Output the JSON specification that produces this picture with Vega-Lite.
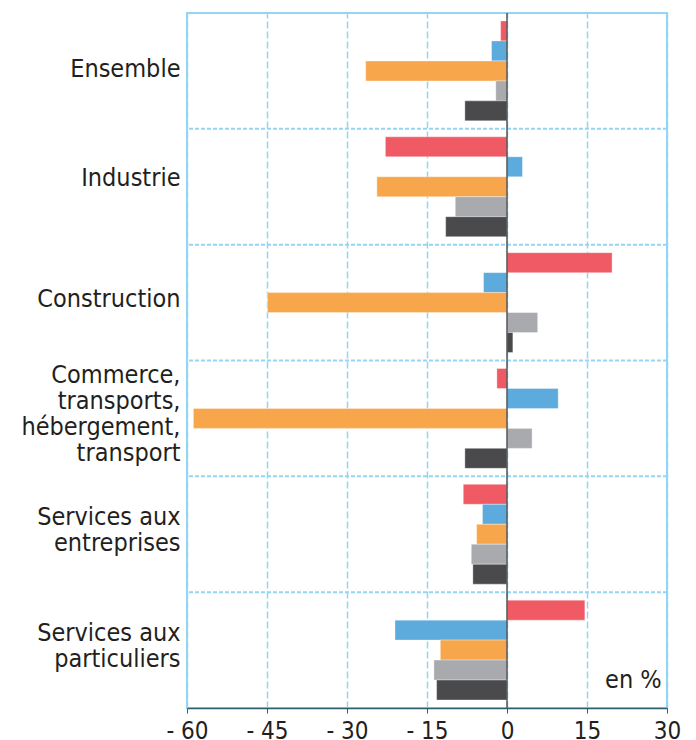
{
  "$schema": "https://vega.github.io/schema/vega-lite/v6.json",
  "width": 480,
  "height": 695,
  "autosize": {"type": "none"},
  "padding": {"left": 187, "top": 13, "right": 29, "bottom": 32},
  "background": "white",
  "config": {
    "view": {"stroke": "#93d5f3", "strokeWidth": 2},
    "font": "DejaVu Sans Condensed, sans-serif"
  },
  "layer": [
    {
      "data": {
        "values": [
          {"secteur": "Ensemble", "serie": "Série 1", "valeur": -1.2},
          {"secteur": "Ensemble", "serie": "Série 2", "valeur": -2.9},
          {"secteur": "Ensemble", "serie": "Série 3", "valeur": -26.5},
          {"secteur": "Ensemble", "serie": "Série 4", "valeur": -2.1},
          {"secteur": "Ensemble", "serie": "Série 5", "valeur": -7.9},
          {"secteur": "Industrie", "serie": "Série 1", "valeur": -22.8},
          {"secteur": "Industrie", "serie": "Série 2", "valeur": 2.9},
          {"secteur": "Industrie", "serie": "Série 3", "valeur": -24.4},
          {"secteur": "Industrie", "serie": "Série 4", "valeur": -9.7},
          {"secteur": "Industrie", "serie": "Série 5", "valeur": -11.5},
          {"secteur": "Construction", "serie": "Série 1", "valeur": 19.7},
          {"secteur": "Construction", "serie": "Série 2", "valeur": -4.4},
          {"secteur": "Construction", "serie": "Série 3", "valeur": -44.9},
          {"secteur": "Construction", "serie": "Série 4", "valeur": 5.75},
          {"secteur": "Construction", "serie": "Série 5", "valeur": 1.1},
          {"secteur": "Commerce,|transports,|hébergement,|transport", "serie": "Série 1", "valeur": -1.9},
          {"secteur": "Commerce,|transports,|hébergement,|transport", "serie": "Série 2", "valeur": 9.6},
          {"secteur": "Commerce,|transports,|hébergement,|transport", "serie": "Série 3", "valeur": -58.8},
          {"secteur": "Commerce,|transports,|hébergement,|transport", "serie": "Série 4", "valeur": 4.7},
          {"secteur": "Commerce,|transports,|hébergement,|transport", "serie": "Série 5", "valeur": -7.9},
          {"secteur": "Services aux|entreprises", "serie": "Série 1", "valeur": -8.2},
          {"secteur": "Services aux|entreprises", "serie": "Série 2", "valeur": -4.6},
          {"secteur": "Services aux|entreprises", "serie": "Série 3", "valeur": -5.7},
          {"secteur": "Services aux|entreprises", "serie": "Série 4", "valeur": -6.7},
          {"secteur": "Services aux|entreprises", "serie": "Série 5", "valeur": -6.4},
          {"secteur": "Services aux|particuliers", "serie": "Série 1", "valeur": 14.6},
          {"secteur": "Services aux|particuliers", "serie": "Série 2", "valeur": -21.0},
          {"secteur": "Services aux|particuliers", "serie": "Série 3", "valeur": -12.5},
          {"secteur": "Services aux|particuliers", "serie": "Série 4", "valeur": -13.7},
          {"secteur": "Services aux|particuliers", "serie": "Série 5", "valeur": -13.2}
        ]
      },
      "mark": {"type": "bar", "stroke": "#ffffff", "strokeOpacity": 0.35, "strokeWidth": 1},
      "encoding": {
        "y": {
          "field": "secteur",
          "type": "nominal",
          "sort": null,
          "scale": {"paddingInner": 0, "paddingOuter": 0},
          "axis": {
            "title": null,
            "ticks": false,
            "domain": false,
            "grid": false,
            "labelExpr": "split(datum.value, '|')",
            "labelFontSize": 25,
            "labelColor": "#231f20",
            "labelPadding": 7,
            "labelLineHeight": 26,
            "labelLimit": 0,
            "labelOffset": {
              "condition": [
                {"test": "datum.value == 'Industrie'", "value": -9},
                {"test": "datum.value == 'Construction'", "value": -4},
                {"test": "length(split(datum.value, '|')) == 4", "value": -43},
                {"test": "length(split(datum.value, '|')) == 2", "value": -17}
              ],
              "value": -2
            }
          }
        },
        "yOffset": {
          "field": "serie",
          "type": "nominal",
          "sort": null,
          "scale": {"paddingInner": 0, "paddingOuter": 0.4}
        },
        "x": {
          "field": "valeur",
          "type": "quantitative",
          "scale": {"domain": [-60, 30], "nice": false, "zero": false},
          "axis": {
            "title": null,
            "values": [-60, -45, -30, -15, 0, 15, 30],
            "labelExpr": "datum.value < 0 ? '- ' + abs(datum.value) : datum.label",
            "labelOverlap": false,
            "labelFlush": false,
            "grid": true,
            "gridColor": "#93d5f3",
            "gridDash": [7, 3],
            "gridWidth": 1.5,
            "domainColor": "#2e5f6e",
            "domainWidth": 1.5,
            "tickColor": "#2e5f6e",
            "tickSize": 5,
            "labelFontSize": 24,
            "labelColor": "#231f20",
            "labelPadding": 6
          }
        },
        "color": {
          "field": "serie",
          "type": "nominal",
          "sort": null,
          "scale": {"range": ["#f05a64", "#5daadc", "#f8a64b", "#a9aaad", "#4a4a4c"]},
          "legend": null
        }
      }
    },
    {
      "data": {
        "values": [
          {"secteur": "Industrie"},
          {"secteur": "Construction"},
          {"secteur": "Commerce,|transports,|hébergement,|transport"},
          {"secteur": "Services aux|entreprises"},
          {"secteur": "Services aux|particuliers"}
        ]
      },
      "mark": {"type": "rule", "color": "#93d5f3", "strokeWidth": 2, "strokeDash": [4, 2]},
      "encoding": {
        "y": {"field": "secteur", "type": "nominal", "sort": null, "bandPosition": 0}
      }
    },
    {
      "data": {"values": [{"v": 0}]},
      "mark": {"type": "rule", "color": "#555555", "strokeWidth": 1.5},
      "encoding": {"x": {"field": "v", "type": "quantitative"}}
    },
    {
      "data": {"values": [{"texte": "en %", "v": 29, "secteur": "Services aux|particuliers"}]},
      "mark": {"type": "text", "align": "right", "baseline": "middle", "fontSize": 25, "color": "#231f20"},
      "encoding": {
        "x": {"field": "v", "type": "quantitative"},
        "y": {"field": "secteur", "type": "nominal", "sort": null, "bandPosition": 0.76},
        "text": {"field": "texte"}
      }
    }
  ]
}
